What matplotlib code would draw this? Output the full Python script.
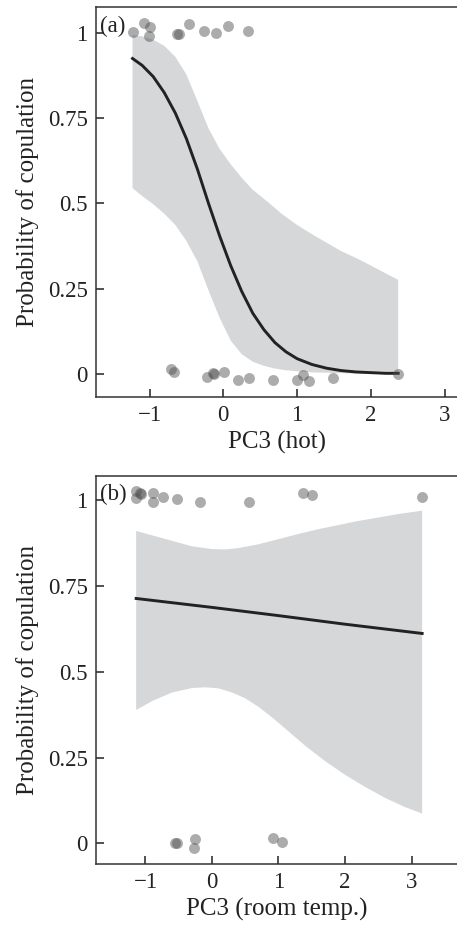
"""Two-panel probability of copulation vs PC3, hot and room temperature."""

import matplotlib
matplotlib.use('Agg')
import matplotlib.pyplot as plt

plt.rcParams['font.family'] = ['Liberation Serif', 'DejaVu Serif']

# (a) hot: observations
hot_x = [-1.23, -1.08, -0.99, -1.01, -0.63, -0.60, -0.47, -0.26, -0.10, 0.07, 0.34,
         -0.71, -0.67, -0.22, -0.14, -0.12, 0.01, 0.20, 0.35, 0.68, 1.00, 1.08, 1.16,
         1.48, 2.37]
hot_y = [1.002, 1.028, 1.018, 0.992, 0.996, 0.998, 1.025, 1.007, 0.999, 1.020, 1.006,
         0.014, 0.005, -0.008, 0.004, 0.000, 0.007, -0.018, -0.011, -0.017, -0.018,
         -0.003, -0.020, -0.011, 0.001]

# (a) fitted curve and confidence band
hot_fit_x = [-1.23, -1.1, -0.95, -0.8, -0.65, -0.5, -0.35, -0.2, -0.05, 0.1, 0.25,
             0.4, 0.55, 0.7, 0.85, 1.0, 1.2, 1.4, 1.6, 1.8, 2.0, 2.2, 2.37]
hot_fit_y = [0.925, 0.905, 0.872, 0.825, 0.765, 0.69, 0.60, 0.50, 0.405, 0.318, 0.242,
             0.178, 0.13, 0.092, 0.065, 0.045, 0.028, 0.017, 0.010, 0.006, 0.004,
             0.002, 0.002]
hot_up_x = [-1.23, -1.1, -0.95, -0.8, -0.65, -0.5, -0.35, -0.2, -0.05, 0.1, 0.25, 0.4,
            0.6, 0.8, 1.0, 1.2, 1.4, 1.6, 1.8, 2.0, 2.2, 2.37]
hot_up_y = [0.994, 0.990, 0.980, 0.962, 0.930, 0.878, 0.80, 0.72, 0.66, 0.615, 0.575,
            0.54, 0.505, 0.468, 0.437, 0.41, 0.385, 0.36, 0.34, 0.318, 0.295, 0.276]
hot_lo_x = [-1.23, -1.1, -0.95, -0.8, -0.65, -0.5, -0.35, -0.2, -0.05, 0.1, 0.25, 0.4,
            0.55, 0.7, 0.85, 1.0, 1.2, 1.5, 1.8, 2.1, 2.37]
hot_lo_y = [0.545, 0.522, 0.498, 0.47, 0.437, 0.39, 0.33, 0.245, 0.165, 0.098, 0.058,
            0.036, 0.024, 0.016, 0.011, 0.008, 0.005, 0.003, 0.001, 0.0005, 0.0]

# (b) room temperature: observations
room_x = [-1.14, -1.14, -1.08, -1.07, -0.89, -0.89, -0.74, -0.53, -0.18, 0.55, 1.37,
          1.51, 3.16, -0.55, -0.53, -0.25, -0.27, 0.92, 1.06]
room_y = [1.028, 1.006, 1.020, 1.018, 1.022, 0.994, 1.010, 1.003, 0.996, 0.996, 1.022,
          1.017, 1.010, 0.002, 0.002, 0.013, -0.013, 0.015, 0.003]

# (b) fitted curve and confidence band
room_fit_x = [-1.14, 0.0, 1.0, 2.0, 3.16]
room_fit_y = [0.714, 0.688, 0.664, 0.639, 0.612]
room_up_x = [-1.14, -0.9, -0.6, -0.3, 0.0, 0.2, 0.4, 0.7, 1.0, 1.3, 1.6, 1.9, 2.2, 2.5,
             2.8, 3.16]
room_up_y = [0.911, 0.898, 0.882, 0.866, 0.858, 0.857, 0.861, 0.872, 0.887, 0.902,
             0.916, 0.928, 0.940, 0.950, 0.960, 0.970]
room_lo_x = [-1.14, -0.9, -0.6, -0.3, -0.1, 0.1, 0.3, 0.5, 0.7, 0.9, 1.1, 1.4, 1.7,
             2.0, 2.3, 2.6, 2.9, 3.16]
room_lo_y = [0.389, 0.415, 0.440, 0.453, 0.455, 0.452, 0.440, 0.423, 0.398, 0.368,
             0.335, 0.285, 0.240, 0.200, 0.165, 0.133, 0.106, 0.087]

yticks = [0, 0.25, 0.5, 0.75, 1]
ytick_labels = ['0', '0.25', '0.5', '0.75', '1']
xticks = [-1, 0, 1, 2, 3]
xtick_labels = ['\u22121', '0', '1', '2', '3']

W, H = 457, 926
fig = plt.figure(figsize=(W / 100, H / 100), dpi=100)


def panel(rect, px, py, fx, fy, ux, uy, lx, ly, xlim, ylim, xlabel, tag):
    left, top, bottom = rect
    ax = fig.add_axes([left / W, 1 - bottom / H, 1 - left / W, (bottom - top) / H])
    ax.fill(ux + lx[::-1], uy + ly[::-1], color='#d6d7d9', lw=0, zorder=1)
    ax.plot(fx, fy, color='#222222', lw=2.1, zorder=2, solid_joinstyle='round')
    ax.scatter(px, py, s=62, color='#505050', alpha=0.47, lw=0, zorder=3)
    ax.set_xlim(*xlim)
    ax.set_ylim(*ylim)
    ax.set_xticks(xticks)
    ax.set_xticklabels(xtick_labels)
    ax.set_yticks(yticks)
    ax.set_yticklabels(ytick_labels)
    ax.tick_params(direction='in', length=6, width=1.1, color='#222222',
                   labelsize=16.5, pad=6, labelcolor='#222222')
    for side in ['left', 'bottom', 'top']:
        ax.spines[side].set_color('#333333')
        ax.spines[side].set_linewidth(1.1)
    ax.spines['right'].set_visible(False)
    ax.set_xlabel(xlabel, fontsize=18, color='#222222', labelpad=3)
    ax.set_ylabel('Probability of copulation', fontsize=18, color='#222222',
                  labelpad=6)
    ax.text(0.012, 1.018, tag, transform=ax.get_yaxis_transform(), fontsize=16.5,
            color='#222222', va='center', ha='left')
    return ax


panel((96, 7, 397), hot_x, hot_y, hot_fit_x, hot_fit_y, hot_up_x, hot_up_y,
      hot_lo_x, hot_lo_y, (-1.725, 3.167), (-0.0674, 1.076), 'PC3 (hot)', '(a)')
panel((96, 476, 864), room_x, room_y, room_fit_x, room_fit_y, room_up_x, room_up_y,
      room_lo_x, room_lo_y, (-1.744, 3.684), (-0.060, 1.071), 'PC3 (room temp.)',
      '(b)')

plt.savefig('out.png', dpi=100)
